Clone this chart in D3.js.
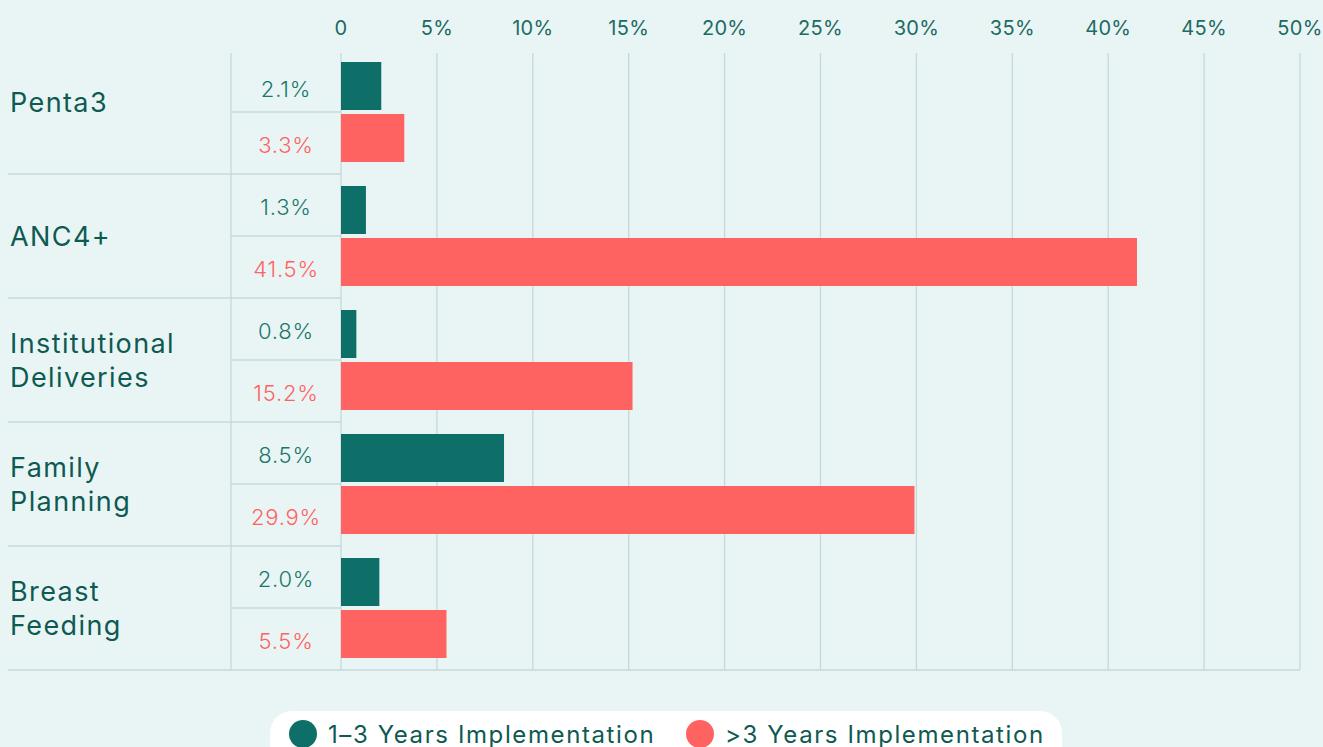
<!DOCTYPE html>
<html><head><meta charset="utf-8">
<script src="https://cdn.jsdelivr.net/npm/d3@7"></script>
<style>
html,body{margin:0;padding:0;background:#e9f5f5;}
svg{display:block;font-family:Inter,"Noto Sans",sans-serif;}
</style></head><body>
<svg id="c" width="1323" height="747"></svg>
<script>
const categories = [["Penta3"],["ANC4+"],["Institutional","Deliveries"],["Family","Planning"],["Breast","Feeding"]];
const shortValues = [2.1, 1.3, 0.8, 8.5, 2.0];
const longValues = [3.3, 41.5, 15.2, 29.9, 5.5];
const seriesNames = ["1–3 Years Implementation", ">3 Years Implementation"];
const tickValues = [0,5,10,15,20,25,30,35,40,45,50];

const green = "#0e6f68", red = "#ff6361", gridC = "#c5d9d8", txt = "#0e5a52";
const svg = d3.select("#c");
const x = d3.scaleLinear().domain([0,50]).range([341,1300]);
const y = d3.scaleBand().domain(d3.range(categories.length)).range([50,670]).padding(0);
const rowH = y.bandwidth();

// vertical grid
svg.append("g").selectAll("line").data(tickValues).join("line")
  .attr("x1",d=>x(d)).attr("x2",d=>x(d)).attr("y1",53).attr("y2",670)
  .attr("stroke",gridC).attr("stroke-width",1.3);
// tick labels
svg.append("g").selectAll("text").data(tickValues).join("text")
  .attr("x",d=>x(d)).attr("y",35).attr("text-anchor","middle")
  .attr("font-size",20).attr("fill","#1d6a62").attr("letter-spacing",0.3)
  .text(d=>d===0?"0":d+"%");

// table lines
svg.append("line").attr("x1",231).attr("x2",231).attr("y1",53).attr("y2",670).attr("stroke",gridC).attr("stroke-width",1.3);
categories.forEach((c,i)=>{
  const top = y(i);
  if(i>0) svg.append("line").attr("x1",8).attr("x2",341).attr("y1",top).attr("y2",top).attr("stroke",gridC).attr("stroke-width",1.3);
  svg.append("line").attr("x1",231).attr("x2",341).attr("y1",top+rowH/2).attr("y2",top+rowH/2).attr("stroke",gridC).attr("stroke-width",1.3);
});
svg.append("line").attr("x1",8).attr("x2",1300).attr("y1",670).attr("y2",670).attr("stroke",gridC).attr("stroke-width",1.3);

// bars
const barH = 48;
const g = svg.append("g");
g.selectAll("rect.s").data(shortValues).join("rect")
  .attr("x",x(0)).attr("y",(d,i)=>y(i)+12).attr("width",d=>x(d)-x(0)).attr("height",barH).attr("fill",green);
g.selectAll("rect.l").data(longValues).join("rect")
  .attr("x",x(0)).attr("y",(d,i)=>y(i)+64).attr("width",d=>x(d)-x(0)).attr("height",barH).attr("fill",red);

// value labels
svg.append("g").selectAll("text").data(shortValues).join("text")
  .attr("x",286).attr("y",(d,i)=>y(i)+rowH/4+10+(i===0?6:0)).attr("text-anchor","middle")
  .attr("font-size",22).attr("font-weight",300).attr("letter-spacing",0.8).attr("fill","#1b776c").text(d=>d.toFixed(1)+"%");
svg.append("g").selectAll("text").data(longValues).join("text")
  .attr("x",286).attr("y",(d,i)=>y(i)+rowH*3/4+10).attr("text-anchor","middle")
  .attr("font-size",22).attr("font-weight",300).attr("letter-spacing",0.8).attr("fill",red).text(d=>d.toFixed(1)+"%");

// category labels
categories.forEach((c,i)=>{
  const cy = y(i)+rowH/2 + (i===0?-10:0);
  const lh = 34;
  const t = svg.append("text").attr("x",10).attr("font-size",27).attr("letter-spacing",1.4).attr("fill",txt);
  c.forEach((line,j)=>{
    t.append("tspan").attr("x",10).attr("y",cy + (j-(c.length-1)/2)*lh + 10).text(line);
  });
});

// legend
svg.append("rect").attr("x",270).attr("y",711).attr("width",792).attr("height",70).attr("rx",22).attr("fill","#ffffff");
const leg = [{n:seriesNames[0],c:green,x:303},{n:seriesNames[1],c:red,x:700}];
leg.forEach(l=>{
  svg.append("circle").attr("cx",l.x).attr("cy",734).attr("r",14).attr("fill",l.c);
  svg.append("text").attr("x",l.x+25).attr("y",743).attr("font-size",24).attr("letter-spacing",1.6).attr("fill",txt).text(l.n);
});
</script>
</body></html>
